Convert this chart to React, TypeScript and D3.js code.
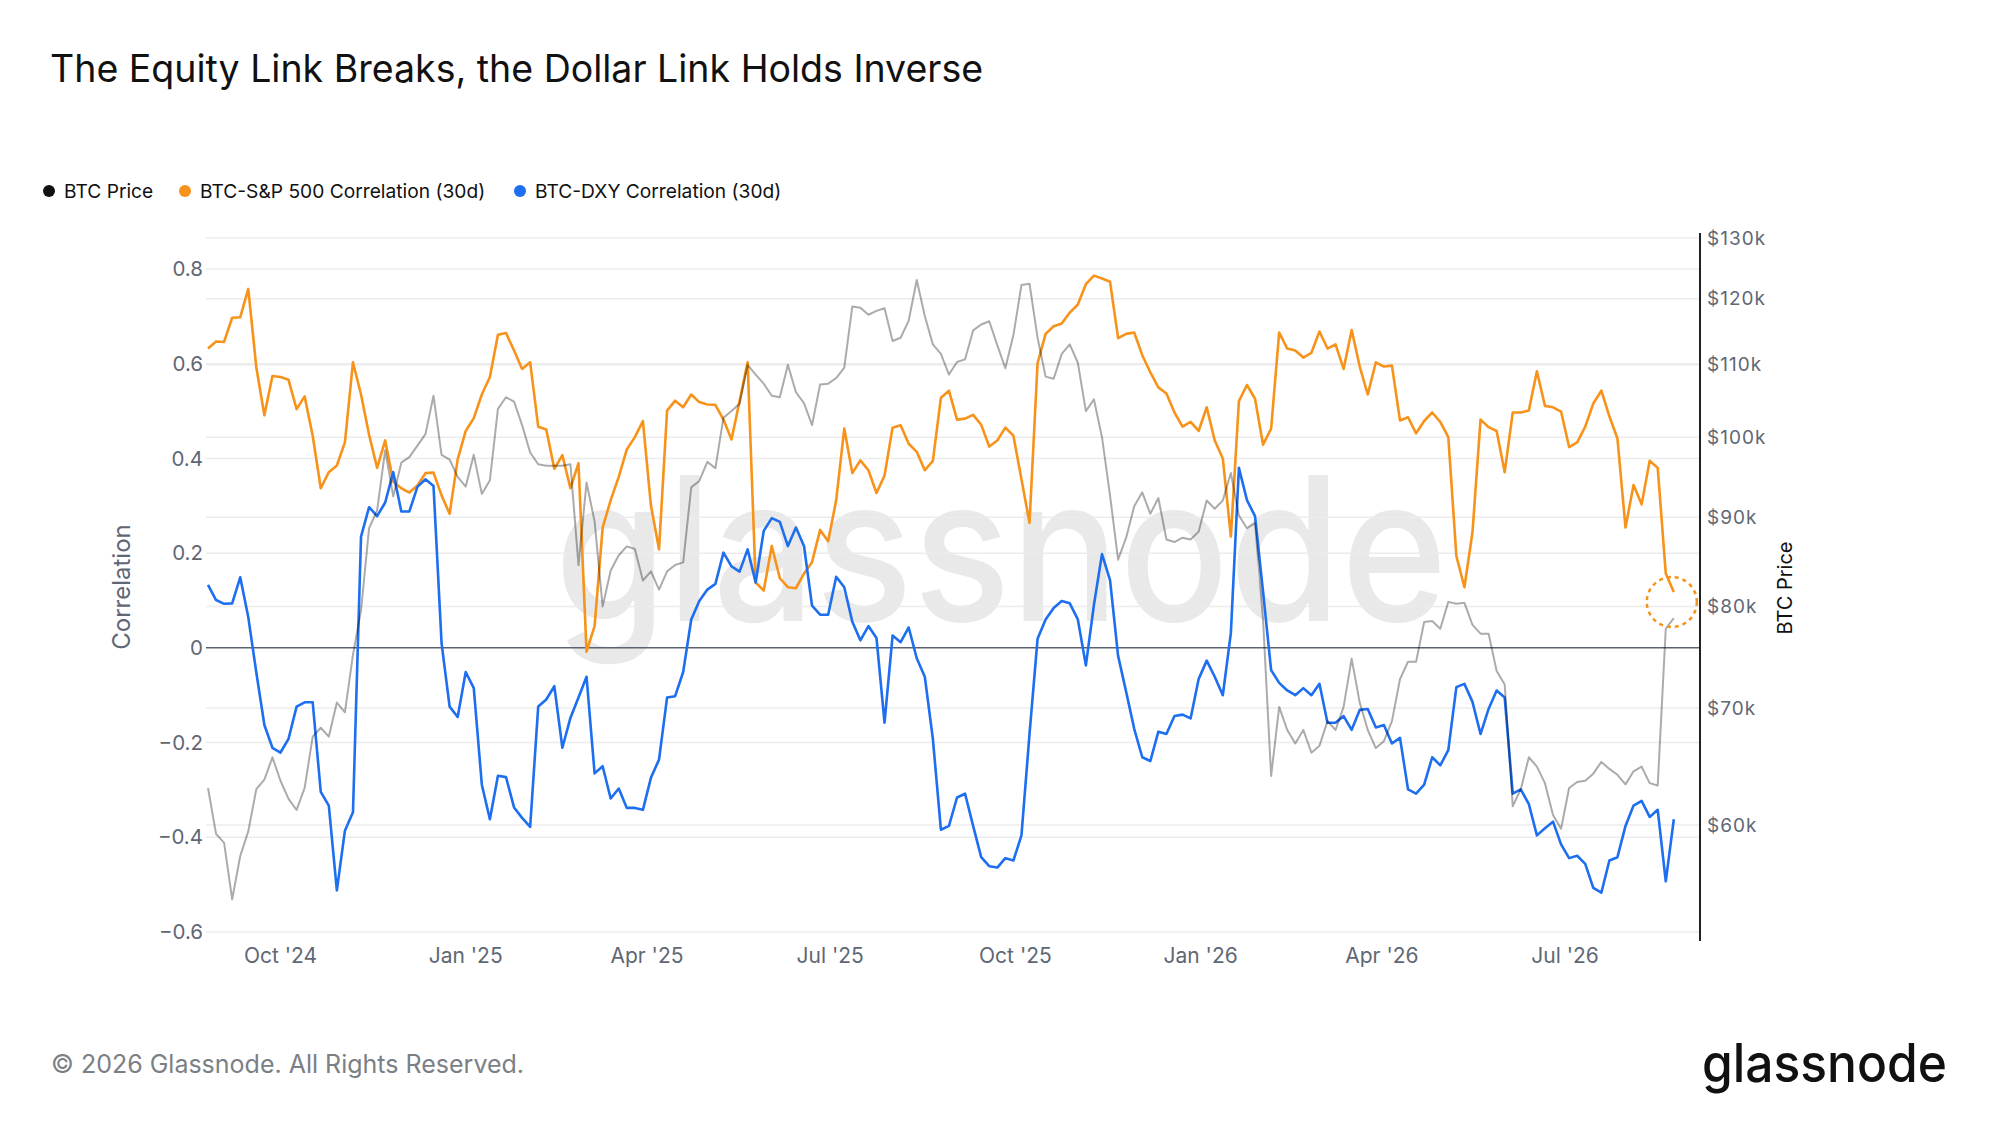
import React from 'react';
import * as d3 from 'd3';

// Series sampled every 4 days, starting 2024-08-26
const START = Date.UTC(2024, 7, 26);
const STEP_DAYS = 4;

// BTC price, thousands of USD
const btcPriceK = [
  63.0, 59.3, 58.6, 54.4, 57.6, 59.5, 62.9, 63.7, 65.6, 63.6, 62.1, 61.2, 63.0, 67.4, 68.2, 67.4, 70.5, 69.6, 75.1, 79.6,
  88.7, 90.8, 98.3, 92.5, 96.7, 97.4, 98.9, 100.4, 105.6, 97.7, 97.1, 94.9, 93.7, 97.7, 92.8, 94.5, 103.8, 105.4, 104.8, 101.6,
  98.0, 96.5, 96.3, 96.3, 96.3, 96.5, 84.5, 94.2, 89.5, 80.0, 83.9, 85.6, 86.6, 86.3, 82.8, 83.8, 81.8, 83.8, 84.5, 84.8,
  93.6, 94.4, 96.8, 96.0, 102.6, 103.5, 104.5, 110.0, 108.6, 107.3, 105.6, 105.4, 110.0, 106.1, 104.6, 101.6, 107.2, 107.3, 108.1, 109.6,
  118.8, 118.6, 117.5, 118.1, 118.5, 113.5, 114.0, 116.6, 123.0, 117.3, 113.0, 111.6, 108.6, 110.4, 110.8, 115.1, 116.0, 116.5, 112.9, 109.5,
  114.4, 122.2, 122.4, 114.0, 108.3, 108.0, 111.6, 113.0, 110.3, 103.5, 105.1, 100.0, 92.6, 85.1, 87.6, 91.3, 93.0, 90.4, 92.3, 87.4,
  87.1, 87.6, 87.4, 88.3, 92.0, 91.0, 92.0, 95.4, 90.2, 88.7, 89.3, 78.6, 64.0, 70.1, 68.0, 66.8, 68.0, 66.0, 66.6, 68.8,
  68.0, 70.1, 74.7, 70.5, 68.0, 66.4, 67.0, 68.8, 72.7, 74.4, 74.4, 78.4, 78.5, 77.7, 80.5, 80.3, 80.4, 78.1, 77.2, 77.2,
  73.5, 72.2, 61.5, 62.9, 65.6, 64.8, 63.4, 60.8, 59.7, 63.0, 63.5, 63.6, 64.2, 65.2, 64.6, 64.1, 63.3, 64.4, 64.8, 63.4,
  63.2, 77.7, 78.8,
];

// BTC-S&P 500 correlation (30d)
const spxCorr = [
  0.632, 0.647, 0.646, 0.697, 0.698, 0.758, 0.592, 0.491, 0.574, 0.572, 0.566, 0.504, 0.531, 0.448, 0.337, 0.371, 0.385, 0.434, 0.603, 0.535,
  0.45, 0.38, 0.438, 0.351, 0.337, 0.328, 0.343, 0.369, 0.37, 0.322, 0.283, 0.398, 0.458, 0.485, 0.535, 0.572, 0.661, 0.665, 0.628, 0.589,
  0.603, 0.467, 0.461, 0.378, 0.407, 0.337, 0.39, -0.008, 0.046, 0.254, 0.312, 0.361, 0.419, 0.445, 0.479, 0.3, 0.208, 0.501, 0.522, 0.508,
  0.535, 0.519, 0.514, 0.513, 0.482, 0.44, 0.521, 0.603, 0.138, 0.121, 0.215, 0.147, 0.128, 0.126, 0.157, 0.181, 0.249, 0.225, 0.312, 0.463,
  0.369, 0.396, 0.375, 0.327, 0.364, 0.465, 0.47, 0.431, 0.414, 0.375, 0.395, 0.528, 0.543, 0.482, 0.484, 0.492, 0.471, 0.425, 0.438, 0.465,
  0.448, 0.356, 0.264, 0.601, 0.663, 0.679, 0.685, 0.708, 0.725, 0.768, 0.786, 0.78, 0.773, 0.654, 0.663, 0.666, 0.618, 0.582, 0.55, 0.537,
  0.497, 0.467, 0.477, 0.458, 0.508, 0.438, 0.4, 0.235, 0.521, 0.555, 0.526, 0.429, 0.463, 0.666, 0.632, 0.628, 0.613, 0.623, 0.668, 0.632,
  0.641, 0.589, 0.671, 0.594, 0.535, 0.603, 0.594, 0.596, 0.48, 0.487, 0.453, 0.479, 0.497, 0.477, 0.445, 0.194, 0.128, 0.244, 0.482, 0.466,
  0.458, 0.371, 0.497, 0.497, 0.501, 0.584, 0.511, 0.508, 0.499, 0.424, 0.434, 0.467, 0.516, 0.543, 0.489, 0.442, 0.254, 0.344, 0.303, 0.395,
  0.38, 0.157, 0.118,
];

// BTC-DXY correlation (30d)
const dxyCorr = [
  0.133, 0.101, 0.093, 0.094, 0.149, 0.065, -0.052, -0.163, -0.211, -0.221, -0.192, -0.124, -0.115, -0.115, -0.304, -0.333, -0.512, -0.386, -0.347, 0.235,
  0.297, 0.278, 0.307, 0.371, 0.288, 0.288, 0.34, 0.356, 0.342, 0.01, -0.124, -0.146, -0.051, -0.085, -0.289, -0.362, -0.27, -0.273, -0.337, -0.359,
  -0.378, -0.124, -0.109, -0.081, -0.211, -0.148, -0.105, -0.061, -0.265, -0.25, -0.318, -0.297, -0.338, -0.338, -0.342, -0.274, -0.236, -0.105, -0.102, -0.051,
  0.06, 0.099, 0.123, 0.135, 0.201, 0.172, 0.161, 0.208, 0.138, 0.247, 0.274, 0.266, 0.215, 0.254, 0.215, 0.089, 0.07, 0.07, 0.15, 0.128,
  0.055, 0.016, 0.046, 0.021, -0.158, 0.026, 0.012, 0.043, -0.022, -0.061, -0.192, -0.384, -0.376, -0.316, -0.308, -0.376, -0.442, -0.461, -0.464, -0.444,
  -0.449, -0.396, -0.182, 0.019, 0.06, 0.084, 0.099, 0.094, 0.06, -0.037, 0.091, 0.198, 0.143, -0.017, -0.093, -0.171, -0.231, -0.239, -0.177, -0.182,
  -0.144, -0.141, -0.149, -0.066, -0.027, -0.061, -0.1, 0.031, 0.38, 0.312, 0.278, 0.118, -0.047, -0.074, -0.09, -0.1, -0.085, -0.1, -0.076, -0.158,
  -0.158, -0.144, -0.173, -0.131, -0.129, -0.168, -0.163, -0.202, -0.19, -0.299, -0.308, -0.289, -0.231, -0.248, -0.216, -0.083, -0.076, -0.114, -0.182, -0.129,
  -0.09, -0.105, -0.308, -0.299, -0.33, -0.396, -0.381, -0.367, -0.415, -0.444, -0.439, -0.456, -0.507, -0.517, -0.449, -0.442, -0.376, -0.333, -0.323, -0.357,
  -0.342, -0.493, -0.362,
];

const corrTicks = [-0.6, -0.4, -0.2, 0, 0.2, 0.4, 0.6, 0.8];
const priceTicks = [60000, 70000, 80000, 90000, 100000, 110000, 120000, 130000];
const monthTicks = ['2024-10-01', '2025-01-01', '2025-04-01', '2025-07-01', '2025-10-01', '2026-01-01', '2026-04-01', '2026-07-01'];
const monthLabels = ["Oct '24", "Jan '25", "Apr '25", "Jul '25", "Oct '25", "Jan '26", "Apr '26", "Jul '26"];

const legendItems = [
  { label: 'BTC Price', color: '#111111' },
  { label: 'BTC-S&P 500 Correlation (30d)', color: '#F7931A' },
  { label: 'BTC-DXY Correlation (30d)', color: '#1E6EF0' },
];

const W = 2000;
const H = 1125;
const FONT = 'Inter, "Open Sans", sans-serif';
const AXIS_GRAY = '#5f6775';

const App: React.FC = () => {
  const dates = spxCorr.map((_, i) => new Date(START + i * STEP_DAYS * 86400000));

  const x = d3.scaleUtc().domain([new Date(START), new Date(Date.UTC(2026, 8, 6))]).range([208, 1700]);
  const yCorr = d3.scaleLinear().domain([-0.6, 0.8]).range([932, 269]);
  const yPrice = d3.scaleLog().domain([60000, 130000]).range([825, 238]);

  const corrLine = d3
    .line<number>()
    .x((_, i) => x(dates[i]))
    .y((d) => yCorr(d));
  const priceLine = d3
    .line<number>()
    .x((_, i) => x(dates[i]))
    .y((d) => yPrice(d * 1000));

  const gridX0 = 206;
  const gridX1 = 1700;
  const legendX = [49, 185, 520];

  const lastI = spxCorr.length - 1;
  const markX = x(dates[lastI]) - 2;
  const markY = yCorr(spxCorr[lastI]) + 10;

  return (
    <svg
      width={W}
      height={H}
      style={{ position: 'absolute', left: 0, top: 0, background: '#fff' }}
      fontFamily={FONT}
    >
      <rect width={W} height={H} fill="#fff" />
      <text x={50} y={82} fontSize={37.5} fill="#111">
        The Equity Link Breaks, the Dollar Link Holds Inverse
      </text>

      {/* legend */}
      {legendItems.map((item, i) => (
        <g key={item.label} transform={`translate(${legendX[i]},191)`}>
          <circle r={6} fill={item.color} />
          <text x={15} dy="0.35em" fontSize={19.2} fill="#111">
            {item.label}
          </text>
        </g>
      ))}

      {/* watermark */}
      <text
        x={1001}
        y={621}
        textAnchor="middle"
        fontSize={200}
        fontWeight={500}
        fill="#000"
        fillOpacity={0.085}
        textLength={893}
        lengthAdjust="spacingAndGlyphs"
      >
        glassnode
      </text>

      {/* grid */}
      {priceTicks.map((t) => (
        <line key={'gp' + t} x1={gridX0} x2={gridX1} y1={yPrice(t)} y2={yPrice(t)} stroke="#ececec" strokeWidth={1.5} />
      ))}
      {corrTicks
        .filter((t) => t !== 0)
        .map((t) => (
          <line key={'gc' + t} x1={gridX0} x2={gridX1} y1={yCorr(t)} y2={yCorr(t)} stroke="#ececec" strokeWidth={1.5} />
        ))}
      <line x1={gridX0} x2={gridX1} y1={yCorr(0)} y2={yCorr(0)} stroke="#5b6270" strokeWidth={1.5} />

      {/* left axis */}
      {corrTicks.map((t) => (
        <text key={'lc' + t} x={203} y={yCorr(t)} dy="0.35em" textAnchor="end" fontSize={20.5} fill={AXIS_GRAY}>
          {t === 0 ? '0' : d3.format('.1f')(t).replace('-', '\u2212')}
        </text>
      ))}
      <text transform={`translate(122,587) rotate(-90)`} textAnchor="middle" dy="0.35em" fontSize={24} fill={AXIS_GRAY}>
        Correlation
      </text>

      {/* right axis */}
      <line x1={1700} x2={1700} y1={233} y2={941} stroke="#222" strokeWidth={2} />
      {priceTicks.map((t) => (
        <text key={'rp' + t} x={1707} y={yPrice(t)} dy="0.35em" fontSize={19} letterSpacing={1} fill={AXIS_GRAY}>
          {'$' + t / 1000 + 'k'}
        </text>
      ))}
      <text transform={`translate(1785,588) rotate(-90)`} textAnchor="middle" dy="0.35em" fontSize={20} fill="#111">
        BTC Price
      </text>

      {/* x axis */}
      {monthTicks.map((m, i) => (
        <text key={m} x={x(new Date(m + 'T00:00:00Z'))} y={963} textAnchor="middle" fontSize={21} fill={AXIS_GRAY}>
          {monthLabels[i]}
        </text>
      ))}

      {/* series */}
      <path d={corrLine(spxCorr) || ''} fill="none" stroke="#F7931A" strokeWidth={2.6} strokeLinejoin="round" />
      <path d={corrLine(dxyCorr) || ''} fill="none" stroke="#1E6EF0" strokeWidth={2.6} strokeLinejoin="round" />
      <path d={priceLine(btcPriceK) || ''} fill="none" stroke="#000" strokeOpacity={0.33} strokeWidth={2} strokeLinejoin="round" />

      {/* highlight of latest S&P correlation */}
      <circle cx={markX} cy={markY} r={25} fill="none" stroke="#F7931A" strokeWidth={2.5} strokeDasharray="4 4" />

      {/* footer */}
      <text x={51} y={1073} fontSize={25} fill="#7b7f86">
        © 2026 Glassnode. All Rights Reserved.
      </text>
      <text
        x={1947}
        y={1082}
        textAnchor="end"
        fontSize={53}
        fontWeight={500}
        fill="#111"
        textLength={245}
        lengthAdjust="spacingAndGlyphs"
      >
        glassnode
      </text>
    </svg>
  );
};

export default App;
